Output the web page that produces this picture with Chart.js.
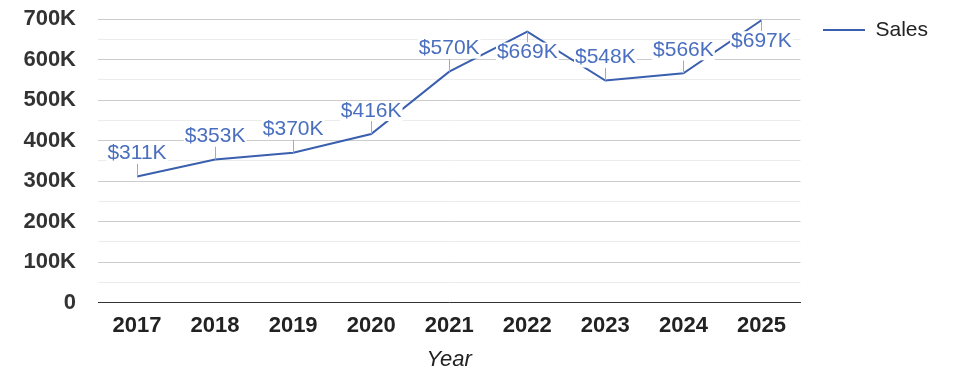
<!DOCTYPE html>
<html>
<head>
<meta charset="utf-8">
<script src="https://cdn.jsdelivr.net/npm/chart.js@4"></script>
<style>
  html, body { margin: 0; padding: 0; background: #fff; }
  #wrap { width: 975px; height: 378px; }
</style>
</head>
<body>
<div id="wrap"><canvas id="salesChart" width="975" height="378"></canvas></div>
<script>
// Sales by year
const years = ['2017', '2018', '2019', '2020', '2021', '2022', '2023', '2024', '2025'];
const sales = [311000, 353000, 370000, 416000, 570000, 669000, 548000, 566000, 697000];
const salesLabels = ['$311K', '$353K', '$370K', '$416K', '$570K', '$669K', '$548K', '$566K', '$697K'];

const FONT = "'Liberation Sans', Arial, sans-serif";

// value labels with small leader line
const valueLabels = {
    id: 'valueLabels',
    afterLayout(chart) {
        // nudge legend a bit away from plot
        chart.legend.left += 3;
        chart.legend.right += 3;
    },
    afterDatasetsDraw(chart) {
        const ctx = chart.ctx;
        const meta = chart.getDatasetMeta(0);
        const top = chart.chartArea.top;
        ctx.save();
        ctx.font = '21px ' + FONT;
        ctx.textAlign = 'center';
        ctx.textBaseline = 'middle';
        meta.data.forEach((pt, i) => {
            const text = salesLabels[i];
            const w = ctx.measureText(text).width;
            let cy = pt.y - 23;
            let ly = pt.y - 13;
            if (cy - 11 < top) {
                cy = pt.y + 21;
                ly = pt.y + 11;
            }
            ctx.strokeStyle = '#aaaaaa';
            ctx.lineWidth = 1;
            ctx.beginPath();
            ctx.moveTo(Math.round(pt.x) + 0.5, pt.y);
            ctx.lineTo(Math.round(pt.x) + 0.5, ly);
            ctx.stroke();
            ctx.fillStyle = '#ffffff';
            ctx.fillRect(pt.x - w / 2 - 1, cy - 10, w + 2, 20);
            ctx.fillStyle = '#4a6fbf';
            ctx.fillText(text, pt.x, cy);
        });
        ctx.restore();
    }
};

const ctx = document.getElementById('salesChart').getContext('2d');
new Chart(ctx, {
    type: 'line',
    data: {
        labels: years,
        datasets: [{
            label: 'Sales',
            data: sales,
            borderColor: '#3a5fae',
            backgroundColor: '#3a5fae',
            borderWidth: 2,
            pointRadius: 0,
            tension: 0
        }]
    },
    options: {
        responsive: false,
        animation: false,
        layout: { padding: { top: 0, right: 40, bottom: 7, left: 0 } },
        plugins: {
            legend: {
                position: 'right',
                align: 'start',
                labels: {
                    usePointStyle: true,
                    pointStyle: 'line',
                    pointStyleWidth: 42,
                    color: '#222',
                    font: { family: FONT, size: 21 },
                    padding: 19.5
                }
            },
            tooltip: { enabled: false }
        },
        scales: {
            x: {
                offset: true,
                grid: { display: false, drawTicks: false },
                border: { display: true, color: '#333', width: 1 },
                ticks: {
                    color: '#222',
                    padding: 10,
                    font: { family: FONT, size: 22, weight: 'bold' }
                },
                title: {
                    display: true,
                    text: 'Year',
                    color: '#222',
                    padding: { top: 0, bottom: 0 },
                    font: { family: FONT, size: 22, style: 'italic', lineHeight: 1 }
                }
            },
            y: {
                min: 0,
                max: 700000,
                afterFit(scale) {
                    scale.width = 98;
                    scale.paddingTop = 19;
                    scale.paddingBottom = 0;
                },
                grid: {
                    drawTicks: false,
                    color: (c) => (c.tick && c.tick.value % 100000 === 0) ? '#cccccc' : '#ececec'
                },
                border: { display: false },
                ticks: {
                    stepSize: 50000,
                    autoSkip: false,
                    padding: 22,
                    color: '#333',
                    font: { family: FONT, size: 22, weight: 'bold' },
                    callback: (v) => v % 100000 !== 0 ? '' : (v === 0 ? '0' : (v / 1000) + 'K')
                }
            }
        }
    },
    plugins: [valueLabels]
});
</script>
</body>
</html>
